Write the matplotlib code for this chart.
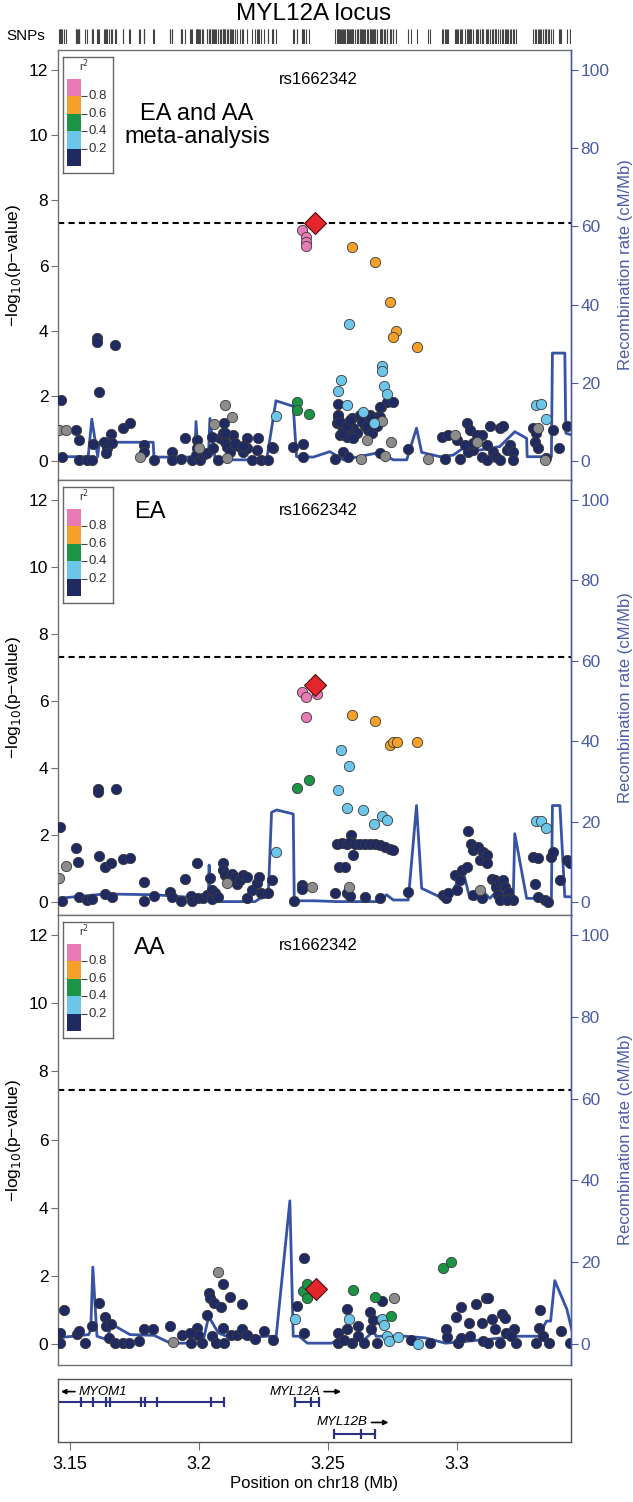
import numpy as np
import matplotlib.pyplot as plt
from matplotlib.transforms import offset_copy

plt.rcParams['font.family'] = ['Liberation Sans', 'DejaVu Sans']

# ---- data: (position Mb, -log10 p) per LD bin ----
meta_lead = (3.2449, 7.30)
meta_ld8 = [(3.2398, 7.09), (3.2414, 6.88), (3.2414, 6.72), (3.2414, 6.59)]
meta_ld6 = [(3.2594, 6.57), (3.2681, 6.12), (3.2740, 4.88), (3.2763, 3.98), (3.2750, 3.82), (3.2843, 3.49)]
meta_ld4 = [(3.2378, 1.81), (3.2378, 1.57), (3.2425, 1.45)]
meta_ld2 = [(3.2581, 4.21), (3.2708, 2.93), (3.2708, 2.77), (3.2549, 2.49), (3.2537, 2.15), (3.2717, 2.31),
            (3.2727, 2.05), (3.2574, 1.72), (3.2299, 1.39), (3.2636, 1.50), (3.2679, 1.18), (3.3308, 1.72),
            (3.3324, 1.75), (3.3344, 1.28)]
meta_nold = [(3.2100, 1.72), (3.2126, 1.36), (3.2059, 1.14), (3.2708, 1.24), (3.2650, 0.65), (3.2746, 0.58),
             (3.1458, 0.95), (3.1483, 0.95), (3.1771, 0.11), (3.1999, 0.39), (3.2107, 0.08), (3.2627, 0.05),
             (3.2720, 0.15), (3.2888, 0.05), (3.2992, 0.80), (3.3076, 0.59), (3.3315, 1.01), (3.3341, 0.03)]
meta_ld0 = [(3.1463, 1.88), (3.1612, 2.13), (3.1604, 3.78), (3.1604, 3.66), (3.1674, 3.55), (3.1470, 0.13),
            (3.1523, 0.95), (3.1533, 0.65), (3.1534, 0.03), (3.1564, 0.03), (3.1584, 0.03), (3.1588, 0.52),
            (3.1632, 0.59), (3.1642, 0.39), (3.1639, 0.24), (3.1658, 0.83), (3.1663, 0.54), (3.1706, 1.01),
            (3.1732, 1.16), (3.1786, 0.49), (3.1788, 0.29), (3.1825, 0.03), (3.1896, 0.29), (3.1896, 0.03),
            (3.1930, 0.05), (3.1945, 0.70), (3.1971, 0.03), (3.1991, 0.65), (3.1991, 0.39), (3.1988, 0.18),
            (3.2003, 0.03), (3.2016, 0.18), (3.2029, 0.24), (3.2055, 0.39), (3.2074, 0.03), (3.2081, 0.70),
            (3.2096, 1.16), (3.2091, 0.85), (3.2100, 0.59), (3.2107, 0.44), (3.2120, 0.29), (3.2132, 0.80),
            (3.2139, 0.49), (3.2158, 0.44), (3.2171, 0.29), (3.2184, 0.70), (3.2184, 0.39), (3.2204, 0.03),
            (3.2223, 0.34), (3.2229, 0.70), (3.2242, 0.03), (3.2266, 0.03), (3.2285, 0.39), (3.2365, 0.44),
            (3.2402, 0.52), (3.2402, 0.13), (3.2540, 1.74), (3.2704, 1.66), (3.2729, 1.82), (3.2750, 1.81),
            (3.2537, 1.36), (3.2591, 1.31), (3.2623, 1.42), (3.2662, 1.42), (3.2688, 1.36), (3.2533, 1.16),
            (3.2553, 1.06), (3.2572, 0.95), (3.2598, 1.01), (3.2611, 0.85), (3.2643, 1.06), (3.2656, 0.95),
            (3.2572, 0.75), (3.2598, 0.70), (3.2546, 0.80), (3.2100, 0.87), (3.2049, 0.73), (3.2139, 0.54),
            (3.2171, 0.46), (3.2281, 0.42), (3.2940, 0.75), (3.2966, 0.80), (3.2540, 1.42), (3.2546, 1.21),
            (3.2553, 0.85), (3.2572, 1.06), (3.2585, 1.26), (3.2630, 1.21), (3.2650, 1.06), (3.2669, 0.85),
            (3.2688, 1.06), (3.2701, 1.36), (3.2701, 1.67), (3.2662, 1.36), (3.2559, 0.29), (3.2578, 0.13),
            (3.2527, 0.05), (3.2701, 0.26), (3.2811, 0.36), (3.2953, 0.05), (3.3011, 0.05), (3.3037, 1.16),
            (3.3050, 0.95), (3.3063, 0.34), (3.3076, 0.80), (3.3095, 0.80), (3.3115, 0.49), (3.3127, 1.06),
            (3.3140, 0.29), (3.3153, 0.13), (3.3166, 1.01), (3.3179, 1.06), (3.3192, 0.34), (3.3205, 0.49),
            (3.3218, 0.29), (3.3043, 0.29), (3.3095, 0.13), (3.3115, 0.03), (3.3166, 0.03), (3.3218, 0.03),
            (3.3295, 1.01), (3.3308, 0.85), (3.3302, 0.59), (3.3315, 0.39), (3.3347, 0.08), (3.3373, 0.95),
            (3.3397, 0.39), (3.3425, 1.06), (3.3031, 0.49), (3.3000, 0.65), (3.3063, 0.54)]

ea_lead = (3.2449, 6.49)
ea_ld8 = [(3.2398, 6.26), (3.2414, 6.12), (3.2456, 6.21), (3.2414, 5.52)]
ea_ld6 = [(3.2594, 5.58), (3.2681, 5.39), (3.2740, 4.68), (3.2750, 4.78), (3.2766, 4.78), (3.2843, 4.78)]
ea_ld4 = [(3.2378, 3.39), (3.2425, 3.65)]
ea_ld2 = [(3.2549, 4.53), (3.2581, 4.06), (3.2537, 3.35), (3.2572, 2.81), (3.2636, 2.75), (3.2708, 2.58),
          (3.2727, 2.46), (3.2679, 2.32), (3.2298, 1.49), (3.3308, 2.41), (3.3324, 2.41), (3.3344, 2.22)]
ea_nold = [(3.1483, 1.07), (3.1457, 0.73), (3.2107, 0.57), (3.2439, 0.45), (3.2582, 0.45), (3.3089, 0.36)]
ea_ld0 = [(3.1461, 2.23), (3.1609, 3.37), (3.1609, 3.27), (3.1677, 3.37), (3.1522, 1.62), (3.1532, 1.20),
          (3.1470, 0.03), (3.1534, 0.16), (3.1564, 0.06), (3.1584, 0.09), (3.1612, 1.36), (3.1635, 1.03),
          (3.1658, 1.15), (3.1635, 0.24), (3.1663, 0.14), (3.1706, 1.27), (3.1732, 1.31), (3.1786, 0.60),
          (3.1786, 0.04), (3.1825, 0.18), (3.1887, 0.31), (3.1894, 0.16), (3.1929, 0.04), (3.1945, 0.70),
          (3.1968, 0.18), (3.1971, 0.04), (3.1991, 1.17), (3.1997, 0.11), (3.2016, 0.11), (3.2029, 0.21),
          (3.2042, 0.73), (3.2049, 0.36), (3.2049, 0.08), (3.2061, 0.26), (3.2074, 0.16), (3.2094, 1.15),
          (3.2094, 0.95), (3.2100, 0.80), (3.2113, 0.65), (3.2126, 0.85), (3.2139, 0.75), (3.2146, 0.53),
          (3.2158, 0.65), (3.2171, 0.80), (3.2184, 0.75), (3.2184, 0.11), (3.2204, 0.36), (3.2223, 0.57),
          (3.2232, 0.75), (3.2242, 0.26), (3.2268, 0.26), (3.2281, 0.65), (3.2368, 0.03), (3.2400, 0.50),
          (3.2400, 0.38), (3.2589, 2.01), (3.3044, 2.11), (3.2533, 1.74), (3.2553, 1.76), (3.2572, 1.74),
          (3.2585, 1.79), (3.2604, 1.74), (3.2624, 1.72), (3.2643, 1.74), (3.2662, 1.74), (3.2682, 1.72),
          (3.2701, 1.69), (3.2720, 1.64), (3.2740, 1.59), (3.2753, 1.54), (3.2598, 1.39), (3.2543, 1.03),
          (3.2565, 1.03), (3.2527, 0.26), (3.2572, 0.26), (3.2585, 0.18), (3.2643, 0.16), (3.2701, 0.11),
          (3.2811, 0.31), (3.2946, 0.21), (3.2959, 0.11), (3.2966, 0.26), (3.2992, 0.80), (3.3011, 0.65),
          (3.3018, 0.95), (3.3037, 1.05), (3.3056, 1.74), (3.3063, 1.54), (3.3082, 1.64), (3.3089, 1.25),
          (3.3102, 1.49), (3.3115, 1.39), (3.3115, 1.17), (3.3134, 0.70), (3.3147, 0.65), (3.3153, 0.45),
          (3.3166, 0.60), (3.3179, 0.65), (3.3186, 0.45), (3.3198, 0.31), (3.3205, 0.11), (3.3218, 0.06),
          (3.3160, 0.21), (3.3166, 0.06), (3.3192, 0.06), (3.3000, 0.36), (3.3063, 0.21), (3.3095, 0.11),
          (3.3295, 1.34), (3.3315, 1.30), (3.3302, 0.55), (3.3315, 0.16), (3.3341, 0.06), (3.3354, 0.01),
          (3.3366, 1.34), (3.3373, 1.49), (3.3399, 0.65), (3.3425, 1.25), (3.3437, 1.17)]

aa_lead = (3.2452, 1.60)
aa_ld8 = []
aa_ld6 = []
aa_ld4 = [(3.2402, 1.55), (3.2420, 1.75), (3.2417, 1.34), (3.2598, 1.58), (3.2684, 1.37), (3.2743, 0.81),
          (3.2947, 2.23), (3.2975, 2.41)]
aa_ld2 = [(3.2370, 0.74), (3.2582, 0.74), (3.2711, 0.74), (3.2716, 0.56), (3.2727, 0.23), (3.2735, 0.08),
          (3.2771, 0.20), (3.2849, 0.01)]
aa_nold = [(3.2075, 2.12), (3.2756, 1.34), (3.1897, 0.05)]
aa_ld0 = [(3.2405, 2.51), (3.2381, 1.12), (3.2405, 0.33), (3.1478, 0.99), (3.1462, 0.33), (3.1459, 0.03),
          (3.1525, 0.28), (3.1536, 0.38), (3.1557, 0.03), (3.1585, 0.54), (3.1612, 1.19), (3.1635, 0.79),
          (3.1638, 0.54), (3.1658, 0.59), (3.1651, 0.18), (3.1674, 0.03), (3.1705, 0.03), (3.1729, 0.03),
          (3.1768, 0.08), (3.1787, 0.45), (3.1823, 0.45), (3.1889, 0.54), (3.1933, 0.25), (3.1968, 0.03),
          (3.1993, 0.48), (3.1996, 0.25), (3.2012, 0.03), (3.2031, 0.86), (3.2040, 1.49), (3.2043, 1.36),
          (3.2059, 1.19), (3.2051, 0.23), (3.2067, 0.03), (3.2084, 1.09), (3.2092, 1.75), (3.2094, 0.48),
          (3.2097, 0.03), (3.2118, 1.39), (3.2125, 0.25), (3.2146, 0.25), (3.2168, 1.16), (3.2168, 0.45),
          (3.2184, 0.25), (3.2215, 0.15), (3.2251, 0.38), (3.2286, 0.13), (3.1965, 0.33), (3.2538, 0.31),
          (3.2538, 0.03), (3.2573, 1.02), (3.2574, 0.43), (3.2563, 0.13), (3.2594, 0.03), (3.2617, 0.23),
          (3.2641, 0.03), (3.2661, 0.94), (3.2667, 0.43), (3.2688, 0.03), (3.2709, 1.27), (3.2705, 0.69),
          (3.2673, 0.69), (3.2616, 0.54), (3.2821, 0.13), (3.2896, 0.03), (3.2959, 0.45), (3.2962, 0.21),
          (3.2998, 0.79), (3.3017, 1.09), (3.3002, 0.03), (3.3046, 0.61), (3.3073, 1.16), (3.3096, 0.61),
          (3.3112, 1.36), (3.3120, 1.36), (3.3102, 0.08), (3.3134, 0.74), (3.3149, 0.43), (3.3174, 0.89),
          (3.3186, 0.76), (3.3190, 0.33), (3.3166, 0.03), (3.3221, 0.43), (3.3229, 0.03), (3.3208, 0.23),
          (3.3017, 0.18), (3.3321, 0.99), (3.3316, 0.48), (3.3308, 0.03), (3.3332, 0.23), (3.3355, 0.03),
          (3.3402, 0.38), (3.3438, 0.03), (3.3049, 0.23), (3.3120, 0.03)]

# recombination rate (position Mb, cM/Mb)
meta_recomb = [(3.1454, 1.1), (3.1570, 1.1), (3.1584, 10.7), (3.1607, 1.1), (3.1613, 4.8), (3.1822, 4.8),
               (3.1825, 1.0), (3.1984, 1.0), (3.1988, 10.1), (3.1997, 1.0), (3.2036, 1.0), (3.2042, 10.9),
               (3.2061, 1.0), (3.2132, 0.3), (3.2262, 0.3), (3.2298, 15.4), (3.2365, 14.0), (3.2378, 1.1),
               (3.2443, 1.0), (3.2507, 2.4), (3.2559, 0.3), (3.2701, 2.2), (3.2753, 0.3), (3.2805, 0.3),
               (3.2843, 8.4), (3.2863, 2.2), (3.2934, 1.1), (3.2985, 1.5), (3.3024, 3.3), (3.3089, 2.8),
               (3.3166, 3.7), (3.3224, 7.5), (3.3270, 5.8), (3.3272, 1.1), (3.3366, 1.1), (3.3370, 27.6),
               (3.3418, 27.6), (3.3422, 7.1), (3.3444, 6.7)]
ea_recomb = [(3.1454, 0.9), (3.1635, 2.0), (3.1829, 1.8), (3.1958, 1.2), (3.2036, 0.9), (3.2039, 9.2),
             (3.2043, 0.3), (3.2068, 0.1), (3.2217, 0.1), (3.2236, 0.9), (3.2268, 1.3), (3.2281, 22.3),
             (3.2301, 22.9), (3.2365, 21.9), (3.2369, 0.3), (3.2449, 0.3), (3.2533, 0.1), (3.2701, 0.1),
             (3.2727, 1.8), (3.2753, 0.5), (3.2811, 0.5), (3.2843, 24.0), (3.2863, 3.4), (3.2946, 0.9),
             (3.2985, 3.0), (3.3024, 7.5), (3.3050, 0.9), (3.3095, 3.0), (3.3127, 0.9), (3.3153, 2.6),
             (3.3218, 0.9), (3.3224, 17.0), (3.3270, 0.9), (3.3366, 0.9), (3.3370, 24.0), (3.3399, 24.0),
             (3.3418, 1.3), (3.3442, 1.3)]
aa_recomb = [(3.1451, 1.5), (3.1572, 2.3), (3.1580, 3.5), (3.1588, 18.8), (3.1604, 1.9), (3.1641, 1.1),
             (3.1662, 4.8), (3.1732, 2.3), (3.1826, 2.1), (3.1889, 0.2), (3.2014, 0.2), (3.2037, 6.7),
             (3.2075, 2.7), (3.2106, 1.9), (3.2185, 1.5), (3.2263, 1.9), (3.2299, 1.9), (3.2352, 35.0),
             (3.2365, 1.9), (3.2388, 1.9), (3.2420, 0.2), (3.2513, 0.2), (3.2529, 0.7), (3.2641, 1.1),
             (3.2662, 2.3), (3.2670, 4.4), (3.2686, 1.9), (3.2797, 1.9), (3.2876, 1.5), (3.2955, 0.2),
             (3.3112, 1.1), (3.3238, 1.9), (3.3316, 1.9), (3.3347, 5.6), (3.3363, 5.6), (3.3379, 15.5),
             (3.3426, 8.5), (3.3445, 3.5)]

thresholds = [7.3, 7.3, 7.45]
panel_names = ['EA and AA\nmeta-analysis', 'EA', 'AA']
lead_snp = 'rs1662342'
r2_breaks = [0.0, 0.2, 0.4, 0.6, 0.8, 1.0]

gene_names = ['MYOM1', 'MYL12A', 'MYL12B']
gene_start = [3.1400, 3.2373, 3.2523]
gene_end = [3.2097, 3.2464, 3.2682]
gene_strand = ['-', '+', '+']
gene_row = [0, 0, 1]
gene_exons = [[3.1541, 3.1588, 3.1638, 3.1656, 3.1773, 3.1789, 3.1836, 3.2048, 3.2097],
              [3.2373, 3.2433, 3.2464],
              [3.2523, 3.2627, 3.2682]]

# ---- styling ----
W, H = 633, 1502
XLIM = (3.1453, 3.3442)
LD_COLORS = ['#1f2a63', '#6cc6ea', '#1b9446', '#f3a128', '#e87ab4']
NOLD = '#8c8c8c'
LEAD = '#e3262c'
RECOMB = '#3753a5'
AXBLUE = '#4a5ca8'
FRAME = '#707070'

fig = plt.figure(figsize=(W / 100, H / 100), dpi=100)


def px_axes(left, top, right, bottom):
    return fig.add_axes([left / W, 1 - bottom / H, (right - left) / W, (bottom - top) / H])


def r2_legend(top):
    lg = px_axes(63, top + 7, 113, top + 123)
    lg.set_xlim(0, 1)
    lg.set_ylim(-0.08, 1.253)
    lg.bar(np.full(5, 0.22), np.diff(r2_breaks), width=0.28, bottom=r2_breaks[:-1],
           color=LD_COLORS, edgecolor='none')
    lg.hlines(r2_breaks[1:-1], 0.36, 0.48, color='#444444', lw=0.8)
    for b in r2_breaks[1:-1]:
        lg.text(0.51, b, f'{b:.1f}', fontsize=9.5, va='center', ha='left', color='#333333')
    lg.text(0.42, 1.15, 'r$^2$', fontsize=8, ha='center', va='center', color='#333333')
    lg.set_xticks([])
    lg.set_yticks([])
    for s in lg.spines.values():
        s.set_color('#666666')
        s.set_linewidth(1)


def locus_panel(top, bottom, zero_px, snps, lead, recomb, thresh):
    ax = px_axes(58, top, 571, bottom)
    unit = (zero_px - (top + 20)) / 12.0  # px per -log10 unit
    ax.set_xlim(XLIM)
    ylim = (-(bottom - zero_px) / unit, (zero_px - top) / unit)
    ax.set_ylim(ylim)

    rx, rc = zip(*recomb)
    ax.plot(rx, np.array(rc) * 12 / 100, color=RECOMB, lw=2, zorder=1)
    ax.axhline(thresh, color='black', ls=(0, (3, 2)), lw=1.5, zorder=2)

    order = [('ld0', LD_COLORS[0]), ('nold', NOLD), ('ld2', LD_COLORS[1]),
             ('ld4', LD_COLORS[2]), ('ld6', LD_COLORS[3]), ('ld8', LD_COLORS[4])]
    for key, col in order:
        pts = snps[key]
        if not pts:
            continue
        x, y = zip(*pts)
        ax.scatter(x, y, s=55, c=col, edgecolors='#3a3a3a', linewidths=0.6, zorder=3)
    ax.scatter([lead[0]], [lead[1]], marker='D', s=125, c=LEAD, edgecolors='#4a1010',
               linewidths=0.8, zorder=4)

    ax.text(lead[0] + 0.0012, 11.7, lead_snp, fontsize=12, ha='center', va='center')

    ax.set_xticks([])
    ax.set_yticks(range(0, 13, 2))
    ax.tick_params(axis='y', direction='out', length=5, labelsize=12.5, color=FRAME, pad=2)
    ax.set_ylabel('\u2212log$_{10}$(p\u2212value)', fontsize=12.5, labelpad=4)
    for s in ax.spines.values():
        s.set_color(FRAME)
        s.set_linewidth(1)

    ax2 = ax.twinx()
    ax2.set_ylim(ylim[0] * 100 / 12, ylim[1] * 100 / 12)
    ax2.set_yticks(range(0, 101, 20))
    ax2.tick_params(axis='y', direction='out', length=5, labelsize=12.5, color=AXBLUE,
                    labelcolor=AXBLUE, pad=2)
    ax2.set_ylabel('Recombination rate (cM/Mb)', fontsize=12, color=AXBLUE, labelpad=6)
    for k, s in ax2.spines.items():
        s.set_visible(k == 'right')
    ax2.spines['right'].set_color(AXBLUE)
    ax2.spines['right'].set_linewidth(1)
    r2_legend(top)
    return ax


panels = [
    (50, 480, 461, dict(ld0=meta_ld0, nold=meta_nold, ld2=meta_ld2, ld4=meta_ld4, ld6=meta_ld6, ld8=meta_ld8),
     meta_lead, meta_recomb),
    (480, 915, 902, dict(ld0=ea_ld0, nold=ea_nold, ld2=ea_ld2, ld4=ea_ld4, ld6=ea_ld6, ld8=ea_ld8),
     ea_lead, ea_recomb),
    (915, 1365, 1344, dict(ld0=aa_ld0, nold=aa_nold, ld2=aa_ld2, ld4=aa_ld4, ld6=aa_ld6, ld8=aa_ld8),
     aa_lead, aa_recomb),
]
name_pos = [(0.271, 'center'), (0.148, 'left'), (0.148, 'left')]
name_top = [0.877, 0.951, 0.951]

for i, (top, bottom, zero, snps, lead, rec) in enumerate(panels):
    ax = locus_panel(top, bottom, zero, snps, lead, rec, thresholds[i])
    ax.text(name_pos[i][0], name_top[i], panel_names[i], transform=ax.transAxes, fontsize=17,
            ha=name_pos[i][1], va='top', linespacing=1.05)

# title and SNP rug
fig.text(314 / W, 1 - 14 / H, 'MYL12A locus', ha='center', va='center', fontsize=17.5)
fig.text(26 / W, 1 - 36 / H, 'SNPs', ha='center', va='center', fontsize=11)
rug = px_axes(58, 29, 571, 44)
rug.set_xlim(XLIM)
rug.set_ylim(0, 1)
all_pos = sorted({p for grp in (meta_ld0, meta_nold, meta_ld2, meta_ld4, meta_ld6, meta_ld8,
                                ea_ld0, aa_ld0) for p, _ in grp})
rug.vlines(all_pos, 0, 1, color='#444444', lw=0.8)
rug.axis('off')

# gene track
gx = px_axes(58, 1379, 571, 1442)
gx.set_xlim(XLIM)
gx.set_ylim(0, 1)
row_y = [0.635, 0.127]
lab_y = [0.80, 0.31]
for name, s, e, strand, row, exons in zip(gene_names, gene_start, gene_end, gene_strand,
                                          gene_row, gene_exons):
    y = row_y[row]
    gx.hlines(y, s, e, color='#2b3282', lw=1.5)
    gx.vlines(exons, y - 0.08, y + 0.08, color='#2b3282', lw=1.6)
    ly = lab_y[row]
    if s < XLIM[0]:
        # label pinned to the left edge
        a0 = offset_copy(gx.transData, fig=fig, x=17, units='dots')
        a1 = offset_copy(gx.transData, fig=fig, x=3, units='dots')
        gx.annotate('', xy=(XLIM[0], ly), xycoords=a1, xytext=(XLIM[0], ly), textcoords=a0,
                    arrowprops=dict(arrowstyle='-|>', color='black', lw=1.2, mutation_scale=7,
                                    shrinkA=0, shrinkB=0))
        gx.text(XLIM[0], ly, name, transform=offset_copy(gx.transData, fig=fig, x=21, units='dots'),
                ha='left', va='center', style='italic', fontsize=9.5)
    else:
        mid = (s + e) / 2
        a0 = offset_copy(gx.transData, fig=fig, x=17, units='dots')
        a1 = offset_copy(gx.transData, fig=fig, x=34, units='dots')
        gx.annotate('', xy=(mid, ly), xycoords=a1, xytext=(mid, ly), textcoords=a0,
                    arrowprops=dict(arrowstyle='-|>', color='black', lw=1.2, mutation_scale=7,
                                    shrinkA=0, shrinkB=0))
        gx.text(mid, ly, name, transform=offset_copy(gx.transData, fig=fig, x=13, units='dots'),
                ha='right', va='center', style='italic', fontsize=9.5)
gx.set_yticks([])
gx.set_xticks([3.15, 3.2, 3.25, 3.3])
gx.set_xticklabels(['3.15', '3.2', '3.25', '3.3'])
gx.tick_params(axis='x', direction='out', length=6, labelsize=13, color=FRAME, pad=4)
gx.set_xlabel('Position on chr18 (Mb)', fontsize=12, labelpad=2)
for sp in gx.spines.values():
    sp.set_color('#555555')
    sp.set_linewidth(1)

fig.savefig('out.png', dpi=100)
